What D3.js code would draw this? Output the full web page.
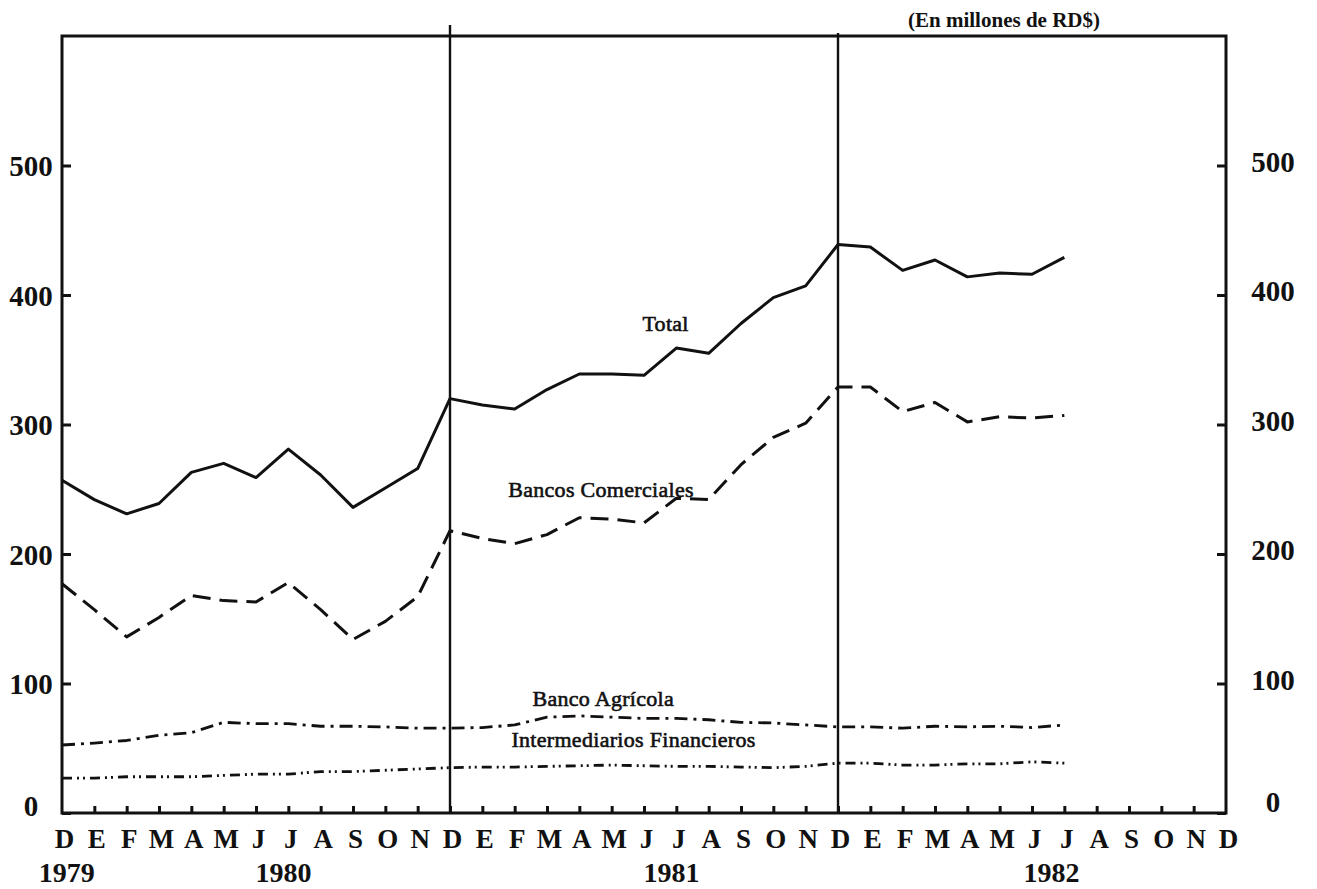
<!DOCTYPE html>
<html>
    <head>
        <meta charset="utf-8">
        <title>En millones de RD$</title>
        <script type="text/javascript" src="https://cdn.jsdelivr.net/npm/d3@7"></script>
        <style>
            body { margin: 0; background: #fff; }
            text { font-family: "Liberation Serif", "DejaVu Serif", serif; fill: #111; }
        </style>
    </head>
    <body>
        <svg id="svg"></svg>

        <script>
            var WIDTH = 1317;
            var HEIGHT = 889;

            // months from D 1979 to D 1982
            var months = ["D","E","F","M","A","M","J","J","A","S","O","N",
                          "D","E","F","M","A","M","J","J","A","S","O","N",
                          "D","E","F","M","A","M","J","J","A","S","O","N","D"];
            var years = ["1979","1980","1981","1982"];
            var yearAt = [0.15, 6.85, 18.85, 30.6];
            var yTicks = [0, 100, 200, 300, 400, 500];

            var total = [257,242,231,239,263,270,259,281,261,236,251,266,
                         320,315,312,327,339,339,338,359,355,378,398,407,
                         439,437,419,427,414,417,416,429];
            var bancosComerciales = [177,157,136,151,168,164,163,178,157,134,148,167,
                                     218,212,208,215,228,227,224,243,242,269,290,301,
                                     329,329,310,317,302,306,305,307];
            var bancoAgricola = [52.5,54,56,60,62,70,69,69,67,67,66.5,65.5,
                                 65.5,66,68,74,75,74,73,73,72,70,69.5,68,
                                 66.5,66.5,65.5,67,66.5,67,66,68];
            var intermediarios = [27,27,28,28,28,29,30,30,32,32,33,34,
                                  35,35.5,35.5,36,36.5,37,36.5,36,36,35.5,35,36,
                                  38.5,38.5,37,37,38,38,39.5,38.5];

            var series = [
                {name: "Total", values: total, dash: null, width: 3,
                 lx: 17.95, ly: 372},
                {name: "Bancos Comerciales", values: bancosComerciales, dash: "18,9", width: 3,
                 lx: 13.8, ly: 244},
                {name: "Banco Agrícola", values: bancoAgricola, dash: "13,6,3,6", width: 2.8,
                 lx: 14.55, ly: 83},
                {name: "Intermediarios Financieros", values: intermediarios, dash: "10,5,2,4,2,5", width: 2.8,
                 lx: 13.9, ly: 51}
            ];

            var LEFT = 62, RIGHT = 1226, TOP = 36, BOTTOM = 813;

            var svg = d3.select('#svg')
                        .attr('width', WIDTH)
                        .attr('height', HEIGHT);

            var x = d3.scaleLinear().domain([0, 36]).range([LEFT, RIGHT]);
            var y = d3.scaleLinear().domain([0, 600]).range([BOTTOM, TOP]);

            // frame
            svg.append("rect")
               .attr("x", LEFT).attr("y", TOP)
               .attr("width", RIGHT - LEFT).attr("height", BOTTOM - TOP)
               .attr("fill", "none").attr("stroke", "#111").attr("stroke-width", 3);

            // year separators
            [12, 24].forEach(function(m, i){
                svg.append("line")
                   .attr("x1", x(m)).attr("x2", x(m))
                   .attr("y1", i == 0 ? TOP - 11 : TOP - 3).attr("y2", BOTTOM)
                   .attr("stroke", "#111").attr("stroke-width", 2.4);
            });

            // left axis
            var left = svg.append("g")
               .attr("transform", "translate(" + LEFT + ",0)")
               .call(d3.axisLeft(y).tickValues(yTicks).tickSizeInner(-9).tickSizeOuter(0));
            left.select(".domain").remove();
            left.selectAll("line").attr("stroke", "#111").attr("stroke-width", 3);
            left.selectAll("text")
                .attr("x", -31).attr("text-anchor", "middle")
                .attr("dy", function(d){ return d == 0 ? "0.1em" : "0.35em"; })
                .attr("font-size", "29px").attr("font-weight", "bold")
                .attr("font-family", null);

            // right axis
            var right = svg.append("g")
               .attr("transform", "translate(" + RIGHT + ",0)")
               .call(d3.axisRight(y).tickValues(yTicks).tickSizeInner(-9).tickSizeOuter(0));
            right.select(".domain").remove();
            right.selectAll("line").attr("stroke", "#111").attr("stroke-width", 3);
            right.selectAll("text")
                .attr("x", 47).attr("text-anchor", "middle")
                .attr("dy", function(d){ return d == 0 ? "-0.05em" : "0.2em"; })
                .attr("font-size", "29px").attr("font-weight", "bold")
                .attr("font-family", null);

            // bottom axis: month letters
            var bottom = svg.append("g")
               .attr("transform", "translate(0," + BOTTOM + ")")
               .call(d3.axisBottom(x).tickValues(d3.range(0, 37))
                       .tickSizeInner(-7).tickSizeOuter(0).tickPadding(16)
                       .tickFormat(function(d){ return months[d]; }));
            bottom.select(".domain").remove();
            bottom.selectAll("line")
                  .attr("stroke", "#111").attr("stroke-width", 3)
                  .attr("display", function(d){ return (d == 0 || d == 36) ? "none" : null; });
            bottom.selectAll("text")
                  .attr("font-size", "27px").attr("font-weight", "bold")
                  .attr("font-family", null).attr("dx", 2);

            // year labels
            svg.selectAll("text.year")
               .data(years)
               .enter()
               .append("text")
               .attr("class", "year")
               .attr("x", function(d, i){ return x(yearAt[i]); })
               .attr("y", 882)
               .attr("text-anchor", "middle")
               .attr("font-size", "28px")
               .attr("font-weight", "bold")
               .text(function(d){ return d; });

            // lines
            var line = d3.line()
                .x(function(d, i){ return x(i); })
                .y(function(d){ return y(d); });

            svg.selectAll("path.series")
               .data(series)
               .enter()
               .append("path")
               .attr("class", "series")
               .attr("d", function(d){ return line(d.values); })
               .attr("fill", "none")
               .attr("stroke", "#111")
               .attr("stroke-width", function(d){ return d.width; })
               .attr("stroke-linejoin", "round")
               .attr("stroke-dasharray", function(d){ return d.dash; });

            svg.selectAll("text.label")
               .data(series)
               .enter()
               .append("text")
               .attr("class", "label")
               .attr("x", function(d){ return x(d.lx); })
               .attr("y", function(d){ return y(d.ly); })
               .attr("font-size", "22px")
               .attr("stroke", "#111")
               .attr("stroke-width", 0.6)
               .attr("letter-spacing", "0.3px")
               .text(function(d){ return d.name; });

            // units
            svg.append("text")
               .attr("x", 1004)
               .attr("y", 27)
               .attr("text-anchor", "middle")
               .attr("font-size", "21px")
               .attr("font-weight", "bold")
               .text("(En millones de RD$)");
        </script>
    </body>
</html>
